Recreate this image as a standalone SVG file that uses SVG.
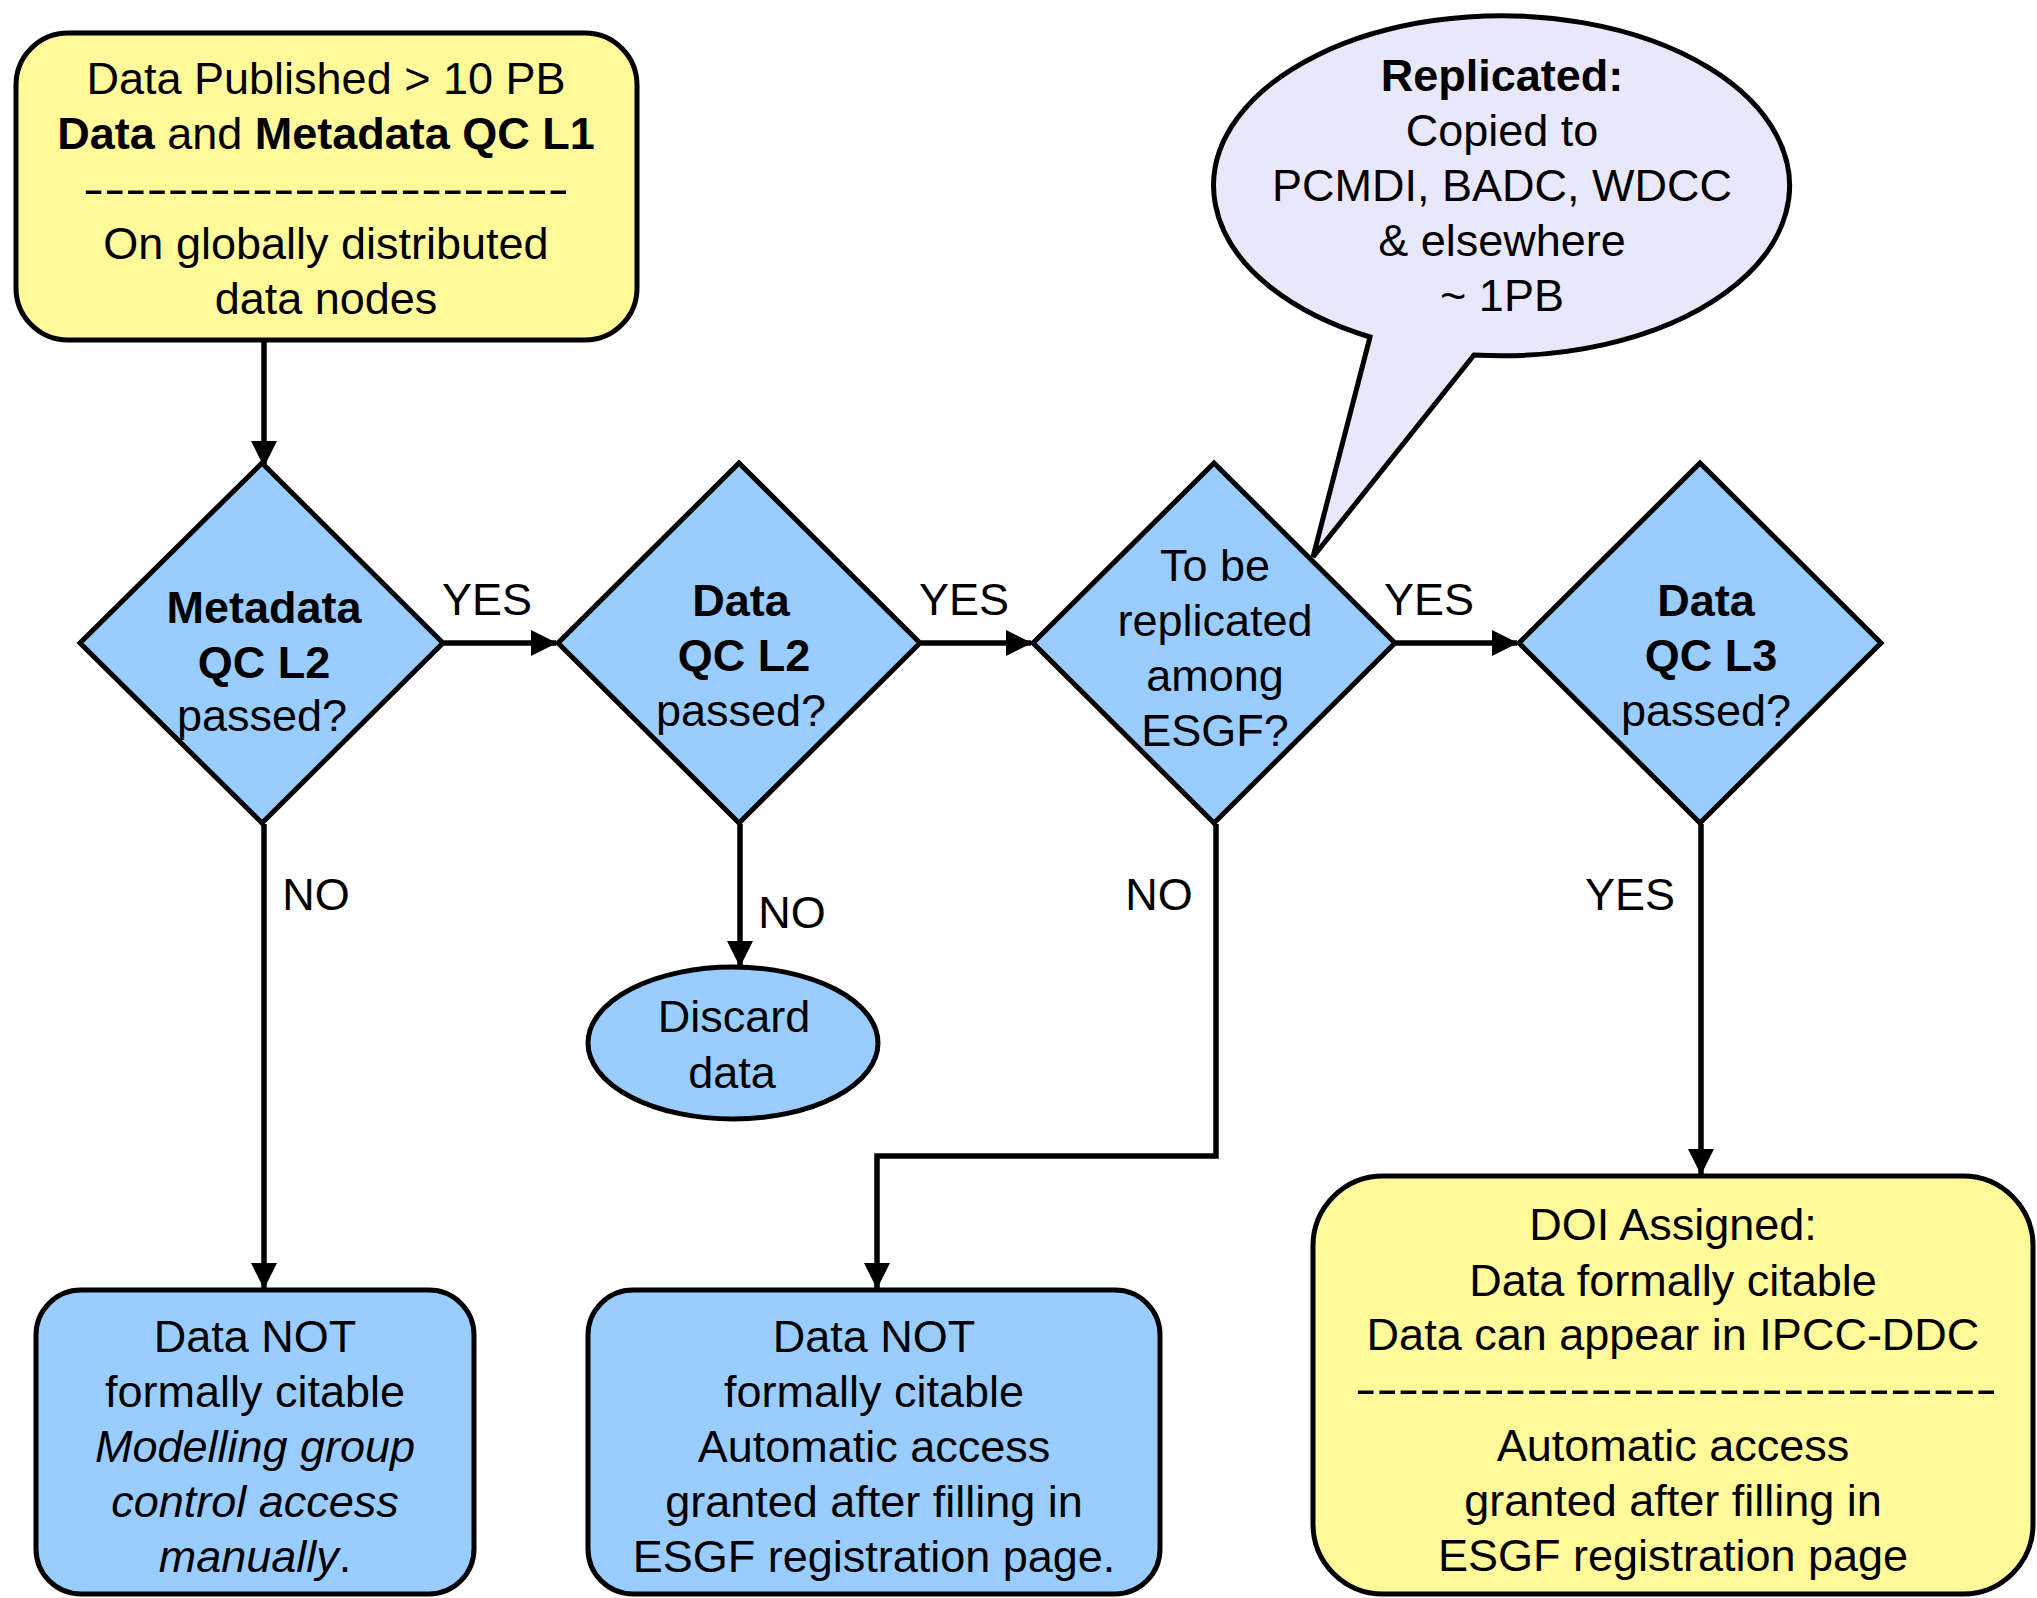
<svg xmlns="http://www.w3.org/2000/svg" width="2037" height="1598" viewBox="0 0 2037 1598">
  <defs>
    <marker id="arrow" viewBox="0 0 26 26" refX="25" refY="13" markerWidth="26" markerHeight="26" markerUnits="userSpaceOnUse" orient="auto">
      <path d="M0,0 L26,13 L0,26 Z" fill="#000"/>
    </marker>
    <style>
      text { font-family: "Liberation Sans", Arial, sans-serif; font-size: 45px; fill: #000; text-anchor: middle; }
      .b { font-weight: bold; }
      .i { font-style: italic; }
      .yellow { fill: #FFF99A; stroke: #000; stroke-width: 5; }
      .blue { fill: #99CCFF; stroke: #000; stroke-width: 5; }
      .callout { fill: #E8E8FA; stroke: #000; stroke-width: 5; stroke-linejoin: miter; }
      .conn { fill: none; stroke: #000; stroke-width: 5.5; marker-end: url(#arrow); }
    </style>
  </defs>
  <rect width="2037" height="1598" fill="#fff"/>

  <!-- connectors -->
  <g id="connectors">
    <line class="conn" x1="264" y1="340" x2="264" y2="466"/>
    <line class="conn" x1="444" y1="643" x2="556" y2="643"/>
    <line class="conn" x1="921" y1="643" x2="1031" y2="643"/>
    <line class="conn" x1="1396" y1="643" x2="1517" y2="643"/>
    <line class="conn" x1="264" y1="824" x2="264" y2="1288"/>
    <line class="conn" x1="740" y1="824" x2="740" y2="966"/>
    <polyline class="conn" points="1216,824 1216,1156 877,1156 877,1288"/>
    <line class="conn" x1="1701" y1="824" x2="1701" y2="1174"/>
    <text x="487" y="615">YES</text>
    <text x="964" y="615">YES</text>
    <text x="1429" y="615">YES</text>
    <text x="316" y="910">NO</text>
    <text x="792" y="928">NO</text>
    <text x="1159" y="910">NO</text>
    <text x="1630" y="910">YES</text>
  </g>

  <!-- start: published data -->
  <g id="published">
    <rect class="yellow" x="16" y="33" width="621" height="307" rx="52" ry="52"/>
    <text x="326" y="94">Data Published &gt; 10 PB</text>
    <text x="326" y="149"><tspan class="b">Data</tspan> and <tspan class="b">Metadata QC L1</tspan></text>
    <text x="326" y="204" textLength="486" lengthAdjust="spacingAndGlyphs">-----------------------</text>
    <text x="326" y="259">On globally distributed</text>
    <text x="326" y="314">data nodes</text>
  </g>

  <!-- decision: metadata QC L2 -->
  <g id="metadata-qc-l2">
    <polygon class="blue" points="262,463 443,643 262,823 80,643"/>
    <text class="b" x="264" y="623">Metadata</text>
    <text class="b" x="264" y="678">QC L2</text>
    <text x="262" y="731">passed?</text>
  </g>

  <!-- decision: data QC L2 -->
  <g id="data-qc-l2">
    <polygon class="blue" points="739,463 920,643 739,823 558,643"/>
    <text class="b" x="741" y="616">Data</text>
    <text class="b" x="744" y="671">QC L2</text>
    <text x="741" y="726">passed?</text>
  </g>

  <!-- decision: replication -->
  <g id="replicate">
    <polygon class="blue" points="1214,463 1395,643 1214,823 1033,643"/>
    <text x="1215" y="581">To be</text>
    <text x="1215" y="636">replicated</text>
    <text x="1215" y="691">among</text>
    <text x="1215" y="746">ESGF?</text>
  </g>

  <!-- decision: data QC L3 -->
  <g id="data-qc-l3">
    <polygon class="blue" points="1700,463 1881,643 1700,823 1519,643"/>
    <text class="b" x="1706" y="616">Data</text>
    <text class="b" x="1711" y="671">QC L3</text>
    <text x="1706" y="726">passed?</text>
  </g>

  <!-- replication note -->
  <g id="replicated-note">
    <path class="callout" d="M1370,337 L1313,557 L1474,355 A288,170 0 1,0 1370,337 Z"/>
    <text class="b" x="1502" y="91">Replicated:</text>
    <text x="1502" y="146">Copied to</text>
    <text x="1502" y="201">PCMDI, BADC, WDCC</text>
    <text x="1502" y="256">&amp; elsewhere</text>
    <text x="1502" y="311">~ 1PB</text>
  </g>

  <!-- discard -->
  <g id="discard">
    <ellipse class="blue" cx="733" cy="1043" rx="145" ry="76"/>
    <text x="734" y="1032">Discard</text>
    <text x="732" y="1088">data</text>
  </g>

  <!-- outcome: manual access -->
  <g id="not-citable-manual">
    <rect class="blue" x="36" y="1290" width="438" height="304" rx="45" ry="45"/>
    <text x="255" y="1352">Data NOT</text>
    <text x="255" y="1407">formally citable</text>
    <text class="i" x="255" y="1462">Modelling group</text>
    <text class="i" x="255" y="1517">control access</text>
    <text x="255" y="1572"><tspan class="i">manually</tspan>.</text>
  </g>

  <!-- outcome: automatic access -->
  <g id="not-citable-auto">
    <rect class="blue" x="588" y="1290" width="572" height="304" rx="45" ry="45"/>
    <text x="874" y="1352">Data NOT</text>
    <text x="874" y="1407">formally citable</text>
    <text x="874" y="1462">Automatic access</text>
    <text x="874" y="1517">granted after filling in</text>
    <text x="874" y="1572">ESGF registration page.</text>
  </g>

  <!-- outcome: DOI assigned -->
  <g id="doi-assigned">
    <rect class="yellow" x="1313" y="1176" width="720" height="418" rx="70" ry="70"/>
    <text x="1673" y="1240">DOI Assigned:</text>
    <text x="1673" y="1296">Data formally citable</text>
    <text x="1673" y="1350">Data can appear in IPCC-DDC</text>
    <text x="1676" y="1404" textLength="642" lengthAdjust="spacingAndGlyphs">------------------------------</text>
    <text x="1673" y="1461">Automatic access</text>
    <text x="1673" y="1516">granted after filling in</text>
    <text x="1673" y="1571">ESGF registration page</text>
  </g>
</svg>
